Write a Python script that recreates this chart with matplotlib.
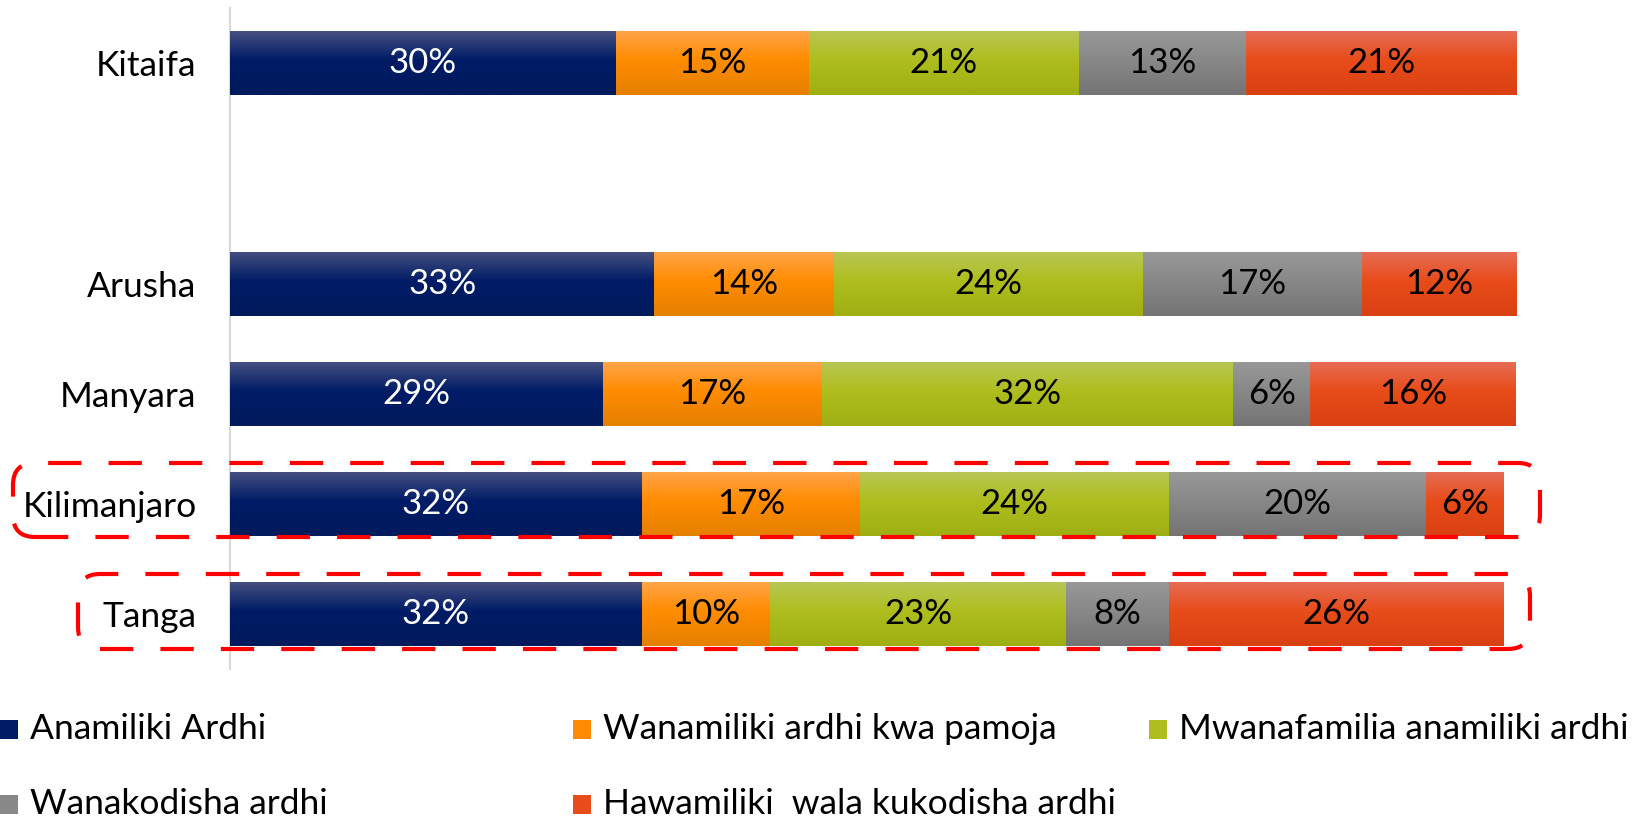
import numpy as np
import matplotlib
matplotlib.use("Agg")
import matplotlib.pyplot as plt
from matplotlib.colors import to_rgb
from matplotlib.patches import FancyBboxPatch, Rectangle

plt.rcParams["font.family"] = ["Lato", "DejaVu Sans"]

regions = ["Kitaifa", "Arusha", "Manyara", "Kilimanjaro", "Tanga"]
slots = [0, 2, 3, 4, 5]  # empty slot between Kitaifa and the regions

anamiliki = [30, 33, 29, 32, 32]
pamoja = [15, 14, 17, 17, 10]
mwanafamilia = [21, 24, 32, 24, 23]
kukodisha = [13, 17, 6, 20, 8]
hawamiliki = [21, 12, 16, 6, 26]

names = ["Anamiliki Ardhi", "Wanamiliki ardhi kwa pamoja", "Mwanafamilia anamiliki ardhi",
         "Wanakodisha ardhi", "Hawamiliki  wala kukodisha ardhi"]
values = [anamiliki, pamoja, mwanafamilia, kukodisha, hawamiliki]
# (top, middle, bottom) gradient colours
grads = [("#454f7f", "#001c66", "#001a5c"),
         ("#ffa448", "#ff8c00", "#e58000"),
         ("#b8c654", "#afbe1e", "#9fae12"),
         ("#989898", "#888888", "#747474"),
         ("#e66c54", "#e84c1a", "#d94012")]
text_colors = ["white", "black", "black", "black", "black"]


def gradient(top, mid, bot, n=64):
    t = np.linspace(0, 1, n)
    a, b, c = np.array(to_rgb(top)), np.array(to_rgb(mid)), np.array(to_rgb(bot))
    out = np.empty((n, 1, 3))
    for i, v in enumerate(t):
        if v < 0.45:
            out[i, 0] = a + (b - a) * (v / 0.45)
        else:
            out[i, 0] = b + (c - b) * ((v - 0.45) / 0.55)
    return out


fig = plt.figure(figsize=(16.39, 8.18), dpi=100)
ax = fig.add_axes([0.1403, 0.1822, 0.7847, 0.8075])

bar_h = 0.58
left = np.zeros(len(regions))
for vals, g, tc in zip(values, grads, text_colors):
    vals = np.array(vals, dtype=float)
    bars = ax.barh(slots, vals, left=left, height=bar_h, color=g[1], zorder=2)
    img = gradient(*g)
    for p, v in zip(bars.patches, vals):
        x0, y0, w, h = p.get_x(), p.get_y(), p.get_width(), p.get_height()
        ax.imshow(img, extent=(x0, x0 + w, y0 + h, y0), aspect="auto", zorder=3,
                  interpolation="bilinear")
        ax.text(x0 + w / 2, y0 + h / 2, f"{v:.0f}%", ha="center", va="center",
                color=tc, fontsize=25, zorder=4)
    left += vals

ax.set_xlim(0, 100)
ax.set_ylim(5.5, -0.5)
ax.set_yticks(slots)
ax.set_yticklabels(regions, fontsize=25.5)
ax.tick_params(axis="y", length=0, pad=24)
ax.set_xticks([])
for s in ["top", "right", "bottom"]:
    ax.spines[s].set_visible(False)
ax.spines["left"].set_color("#d9d9d9")
ax.spines["left"].set_linewidth(1.5)

# legend, three columns
cols = [0, 573, 1149]
rows = [729, 804]
for i, (name, g) in enumerate(zip(names, grads)):
    x = cols[i % 3]
    y = rows[i // 3]
    fig.patches.append(Rectangle((x / 1639, (818 - y - 9.5) / 818), 18 / 1639, 19 / 818,
                                 transform=fig.transFigure, facecolor=g[1], edgecolor="none"))
    fig.text((x + 30) / 1639, (818 - y) / 818, name, fontsize=25.5, ha="left", va="center")

# dashed red highlight boxes (pixel coords: left, top, right, bottom)
for l, t, r, b in [(13, 463, 1540, 537), (78, 574, 1530, 649)]:
    box = FancyBboxPatch((l / 100, (818 - b) / 100), (r - l) / 100, (b - t) / 100,
                         boxstyle="round,pad=0,rounding_size=0.22",
                         transform=fig.dpi_scale_trans, fill=False, edgecolor="#ff0000",
                         linewidth=3, linestyle=(0, (8, 6.5)), zorder=5)
    fig.patches.append(box)

fig.savefig("out.png", dpi=100)
